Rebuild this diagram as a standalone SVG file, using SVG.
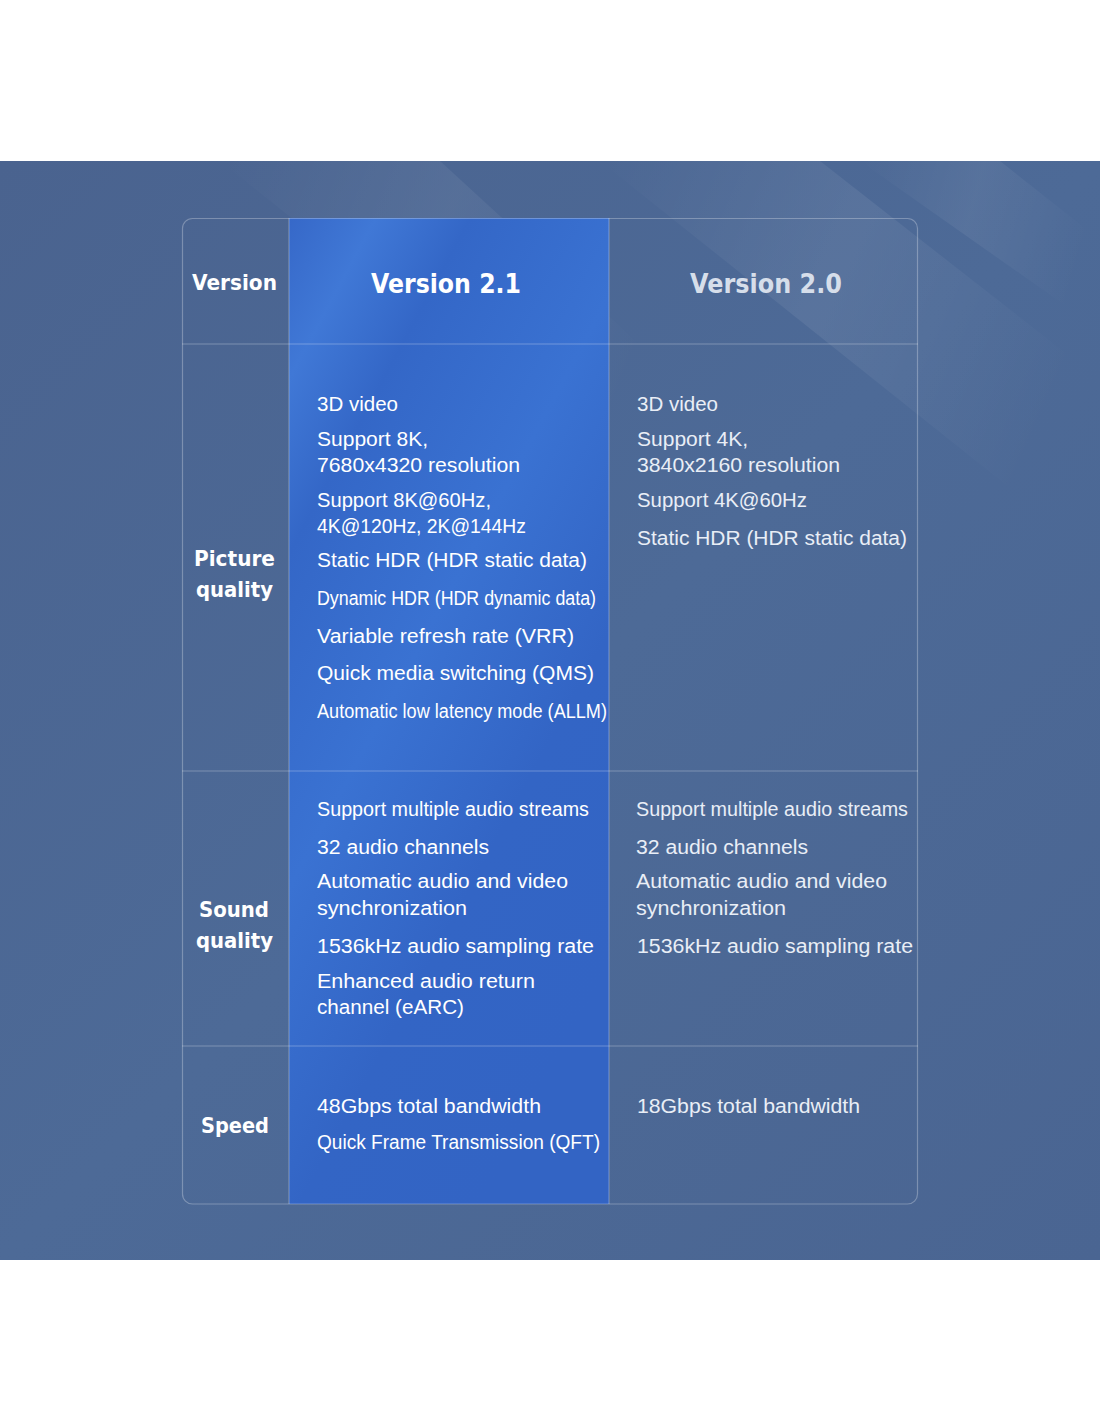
<svg xmlns="http://www.w3.org/2000/svg" width="1100" height="1422" viewBox="0 0 1100 1422">
<defs>
<linearGradient id="bg" x1="0" y1="0" x2="1" y2="1">
<stop offset="0" stop-color="#4a638f"/>
<stop offset="0.5" stop-color="#4d6a97"/>
<stop offset="1" stop-color="#4a6592"/>
</linearGradient>
<linearGradient id="streak" x1="0" y1="0" x2="1" y2="0.35">
<stop offset="0" stop-color="#ffffff" stop-opacity="0"/>
<stop offset="0.5" stop-color="#ffffff" stop-opacity="0.07"/>
<stop offset="1" stop-color="#ffffff" stop-opacity="0"/>
</linearGradient>
<linearGradient id="streak2" x1="0" y1="0" x2="1" y2="0.2">
<stop offset="0" stop-color="#ffffff" stop-opacity="0"/>
<stop offset="0.5" stop-color="#ffffff" stop-opacity="0.06"/>
<stop offset="1" stop-color="#ffffff" stop-opacity="0"/>
</linearGradient>
<linearGradient id="blue" x1="0" y1="0" x2="0.6" y2="1">
<stop offset="0" stop-color="#3668c8"/>
<stop offset="0.12" stop-color="#4078d6"/>
<stop offset="0.25" stop-color="#3467c7"/>
<stop offset="0.5" stop-color="#3a72d2"/>
<stop offset="0.75" stop-color="#3365c5"/>
<stop offset="1" stop-color="#3364c4"/>
</linearGradient>
<style>
.grid{stroke:#ffffff;stroke-opacity:0.28;stroke-width:1.2;fill:none}
.lbl{font-family:"DejaVu Sans","Liberation Sans",sans-serif;font-weight:bold;fill:#ffffff;text-anchor:middle}
.t{font-family:"Liberation Sans","Open Sans",sans-serif;font-size:20px;fill:#ffffff}
.g{font-family:"Liberation Sans","Open Sans",sans-serif;font-size:20px;fill:#e9eef6}
</style>
</defs>
<rect width="1100" height="1422" fill="#ffffff"/>
<rect x="0" y="161" width="1100" height="1099" fill="url(#bg)"/>
<polygon points="600,161 820,161 1100,380 1100,560" fill="url(#streak)"/>
<polygon points="860,161 1000,161 1100,240 1100,330" fill="url(#streak2)"/>
<polygon points="220,161 440,161 700,400 520,400" fill="url(#streak2)"/>

<g id="table">
<rect x="289" y="218" width="320" height="986" fill="url(#blue)"/>
<rect x="182.5" y="218.5" width="735" height="985.5" rx="10" class="grid"/>
<line x1="289" y1="218" x2="289" y2="1204" class="grid"/>
<line x1="609" y1="218" x2="609" y2="1204" class="grid"/>
<line x1="182" y1="344" x2="918" y2="344" class="grid"/>
<line x1="182" y1="771" x2="918" y2="771" class="grid"/>
<line x1="182" y1="1046" x2="918" y2="1046" class="grid"/>
</g>

<g id="header">
<text class="lbl" x="234.5" y="290" font-size="21" textLength="85" lengthAdjust="spacingAndGlyphs">Version</text>
<text class="lbl" x="446" y="293" font-size="27" textLength="150" lengthAdjust="spacingAndGlyphs">Version 2.1</text>
<text class="lbl" x="766" y="293" font-size="27" style="fill:#d6deea" textLength="152" lengthAdjust="spacingAndGlyphs">Version 2.0</text>
</g>

<g id="row-picture">
<text class="lbl" x="234.5" y="566" font-size="22" textLength="81" lengthAdjust="spacingAndGlyphs">Picture</text>
<text class="lbl" x="234.5" y="597" font-size="22" textLength="77" lengthAdjust="spacingAndGlyphs">quality</text>
<text class="t" x="317" y="411" textLength="81" lengthAdjust="spacingAndGlyphs">3D video</text>
<text class="t" x="317" y="446" textLength="111" lengthAdjust="spacingAndGlyphs">Support 8K,</text>
<text class="t" x="317" y="472" textLength="203" lengthAdjust="spacingAndGlyphs">7680x4320 resolution</text>
<text class="t" x="317" y="507" textLength="174" lengthAdjust="spacingAndGlyphs">Support 8K@60Hz,</text>
<text class="t" x="317" y="533" textLength="209" lengthAdjust="spacingAndGlyphs">4K@120Hz, 2K@144Hz</text>
<text class="t" x="317" y="567" textLength="270" lengthAdjust="spacingAndGlyphs">Static HDR (HDR static data)</text>
<text class="t" x="317" y="605" textLength="279" lengthAdjust="spacingAndGlyphs">Dynamic HDR (HDR dynamic data)</text>
<text class="t" x="317" y="643" textLength="257" lengthAdjust="spacingAndGlyphs">Variable refresh rate (VRR)</text>
<text class="t" x="317" y="680" textLength="277" lengthAdjust="spacingAndGlyphs">Quick media switching (QMS)</text>
<text class="t" x="317" y="718" textLength="290" lengthAdjust="spacingAndGlyphs">Automatic low latency mode (ALLM)</text>
<text class="g" x="637" y="411" textLength="81" lengthAdjust="spacingAndGlyphs">3D video</text>
<text class="g" x="637" y="446" textLength="111" lengthAdjust="spacingAndGlyphs">Support 4K,</text>
<text class="g" x="637" y="472" textLength="203" lengthAdjust="spacingAndGlyphs">3840x2160 resolution</text>
<text class="g" x="637" y="507" textLength="170" lengthAdjust="spacingAndGlyphs">Support 4K@60Hz</text>
<text class="g" x="637" y="545" textLength="270" lengthAdjust="spacingAndGlyphs">Static HDR (HDR static data)</text>
</g>

<g id="row-sound">
<text class="lbl" x="234" y="917" font-size="22" textLength="70" lengthAdjust="spacingAndGlyphs">Sound</text>
<text class="lbl" x="234.5" y="948" font-size="22" textLength="77" lengthAdjust="spacingAndGlyphs">quality</text>
<text class="t" x="317" y="816" textLength="272" lengthAdjust="spacingAndGlyphs">Support multiple audio streams</text>
<text class="t" x="317" y="854" textLength="172" lengthAdjust="spacingAndGlyphs">32 audio channels</text>
<text class="t" x="317" y="888" textLength="251" lengthAdjust="spacingAndGlyphs">Automatic audio and video</text>
<text class="t" x="317" y="915" textLength="150" lengthAdjust="spacingAndGlyphs">synchronization</text>
<text class="t" x="317" y="953" textLength="277" lengthAdjust="spacingAndGlyphs">1536kHz audio sampling rate</text>
<text class="t" x="317" y="988" textLength="218" lengthAdjust="spacingAndGlyphs">Enhanced audio return</text>
<text class="t" x="317" y="1014" textLength="147" lengthAdjust="spacingAndGlyphs">channel (eARC)</text>
<text class="g" x="636" y="816" textLength="272" lengthAdjust="spacingAndGlyphs">Support multiple audio streams</text>
<text class="g" x="636" y="854" textLength="172" lengthAdjust="spacingAndGlyphs">32 audio channels</text>
<text class="g" x="636" y="888" textLength="251" lengthAdjust="spacingAndGlyphs">Automatic audio and video</text>
<text class="g" x="636" y="915" textLength="150" lengthAdjust="spacingAndGlyphs">synchronization</text>
<text class="g" x="637" y="953" textLength="276" lengthAdjust="spacingAndGlyphs">1536kHz audio sampling rate</text>
</g>

<g id="row-speed">
<text class="lbl" x="235" y="1133" font-size="22" textLength="68" lengthAdjust="spacingAndGlyphs">Speed</text>
<text class="t" x="317" y="1113" textLength="224" lengthAdjust="spacingAndGlyphs">48Gbps total bandwidth</text>
<text class="t" x="317" y="1149" textLength="283" lengthAdjust="spacingAndGlyphs">Quick Frame Transmission (QFT)</text>
<text class="g" x="637" y="1113" textLength="223" lengthAdjust="spacingAndGlyphs">18Gbps total bandwidth</text>
</g>
</svg>
